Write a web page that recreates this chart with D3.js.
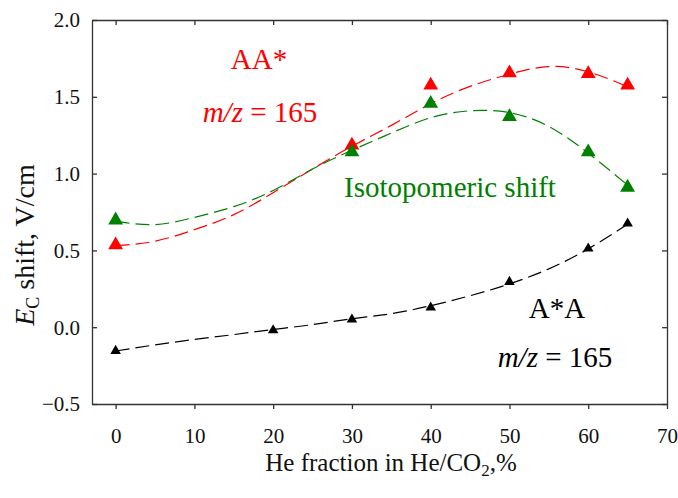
<!DOCTYPE html>
<html>
<head>
<meta charset="utf-8">
<script src="https://cdn.jsdelivr.net/npm/d3@7"></script>
<style>
  html, body { margin: 0; padding: 0; background: #fff; }
  svg { display: block; }
  svg text { font-family: "Liberation Serif", "Times New Roman", serif; }
</style>
</head>
<body>
<script>
// measured points (He fraction, %)
const xAA = [0, 30, 40, 50, 60, 65];
const yAA = [0.535, 1.185, 1.575, 1.655, 1.65, 1.575];
const xIso = [0, 30, 40, 50, 60, 65];
const yIso = [0.697, 1.14, 1.456, 1.37, 1.14, 0.91];
const xAsA = [0, 20, 30, 40, 50, 60, 65];
const yAsA = [-0.154, -0.02, 0.05, 0.128, 0.295, 0.512, 0.675];

// dashed fit curves
const fitX = [0, 5, 10, 15, 20, 25, 30, 35, 40, 45, 50, 55, 60, 65];
const fitAA = [0.53, 0.56, 0.635, 0.733, 0.876, 1.03, 1.178, 1.314, 1.455, 1.568, 1.647, 1.697, 1.663, 1.565];
const fitIso = [0.69, 0.668, 0.715, 0.785, 0.89, 1.03, 1.152, 1.264, 1.364, 1.409, 1.397, 1.307, 1.133, 0.925];
const fitAsA = [-0.155, -0.115, -0.08, -0.048, -0.015, 0.017, 0.055, 0.088, 0.14, 0.205, 0.282, 0.38, 0.51, 0.67];

const xTicks = [0, 10, 20, 30, 40, 50, 60, 70];
const yTicks = [-0.5, 0.0, 0.5, 1.0, 1.5, 2.0];

const width = 678, height = 498;
const margin = { top: 20, right: 11, bottom: 94, left: 92 };

const x = d3.scaleLinear().domain([-3, 70]).range([margin.left, width - margin.right]);
const y = d3.scaleLinear().domain([-0.5, 2.0]).range([height - margin.bottom, margin.top]);

const svg = d3.select("body").append("svg")
  .attr("width", width)
  .attr("height", height);

const fmt = d3.format(".1f");
const axisColor = "#333";

// bottom axis, ticks outward
const gx = svg.append("g")
  .attr("transform", `translate(0,${y.range()[0]})`)
  .call(d3.axisBottom(x).tickValues(xTicks).tickSize(5).tickPadding(19).tickSizeOuter(0));
// top axis, ticks inward
svg.append("g")
  .attr("transform", `translate(0,${margin.top})`)
  .call(d3.axisBottom(x).tickValues(xTicks).tickSize(5).tickFormat("").tickSizeOuter(0));
// left axis, ticks inward
const gy = svg.append("g")
  .attr("transform", `translate(${margin.left},0)`)
  .call(d3.axisRight(y).tickValues(yTicks).tickSize(5).tickFormat(fmt).tickSizeOuter(0));
// right axis, ticks inward
svg.append("g")
  .attr("transform", `translate(${width - margin.right},0)`)
  .call(d3.axisLeft(y).tickValues(yTicks).tickSize(5).tickFormat("").tickSizeOuter(0));

svg.selectAll(".domain, .tick line").attr("stroke", axisColor).attr("stroke-width", 1.3);

gx.selectAll("text")
  .attr("font-size", 21).attr("fill", "#111");
gy.selectAll("text")
  .attr("font-size", 21).attr("fill", "#111")
  .attr("text-anchor", "end")
  .attr("x", -12)
  .attr("dy", "0.33em");

// fit curves
const series = [
  { fx: fitX, fy: fitAA, px: xAA, py: yAA, color: "red", size: 95 },
  { fx: fitX, fy: fitIso, px: xIso, py: yIso, color: "green", size: 95 },
  { fx: fitX, fy: fitAsA, px: xAsA, py: yAsA, color: "black", size: 48 }
];

const line = d3.line()
  .x(d => x(d[0]))
  .y(d => y(d[1]))
  .curve(d3.curveNatural);

series.forEach(s => {
  svg.append("path")
    .datum(s.fx.map((v, i) => [v, s.fy[i]]))
    .attr("fill", "none")
    .attr("stroke", s.color)
    .attr("stroke-width", 1.2)
    .attr("stroke-dasharray", "14,6")
    .attr("d", line);
});

series.forEach(s => {
  svg.append("g")
    .selectAll("path")
    .data(s.px.map((v, i) => [v, s.py[i]]))
    .join("path")
    .attr("transform", d => `translate(${x(d[0])},${y(d[1])})`)
    .attr("d", d3.symbol(d3.symbolTriangle, s.size))
    .attr("fill", s.color);
});

// annotations
function mzLabel(cx, cy, color) {
  const t = svg.append("text")
    .attr("x", cx).attr("y", cy)
    .attr("text-anchor", "middle")
    .attr("font-size", 29)
    .attr("fill", color);
  t.append("tspan").attr("font-style", "italic").text("m/z");
  t.append("tspan").text(" = 165");
}

svg.append("text")
  .attr("x", 259).attr("y", 69)
  .attr("text-anchor", "middle")
  .attr("font-size", 29)
  .attr("fill", "red")
  .text("AA*");
mzLabel(260, 122, "red");

svg.append("text")
  .attr("x", 450).attr("y", 197)
  .attr("text-anchor", "middle")
  .attr("font-size", 29)
  .attr("fill", "green")
  .text("Isotopomeric shift");

svg.append("text")
  .attr("x", 557).attr("y", 318)
  .attr("text-anchor", "middle")
  .attr("font-size", 29)
  .attr("fill", "black")
  .text("A*A");
mzLabel(555, 367, "black");

// axis titles
const xt = svg.append("text")
  .attr("x", 391).attr("y", 471)
  .attr("text-anchor", "middle")
  .attr("font-size", 25)
  .attr("fill", "#111");
xt.append("tspan").text("He fraction in He/CO");
xt.append("tspan").attr("font-size", 17).attr("dy", 5).text("2");
xt.append("tspan").attr("dy", -5).text(",%");

const yt = svg.append("text")
  .attr("transform", "translate(34,245) rotate(-90)")
  .attr("text-anchor", "middle")
  .attr("font-size", 28)
  .attr("fill", "#111");
yt.append("tspan").attr("font-style", "italic").text("E");
yt.append("tspan").attr("font-size", 18).attr("dy", 5).text("C");
yt.append("tspan").attr("dy", -5).text(" shift, V/cm");
</script>
</body>
</html>
